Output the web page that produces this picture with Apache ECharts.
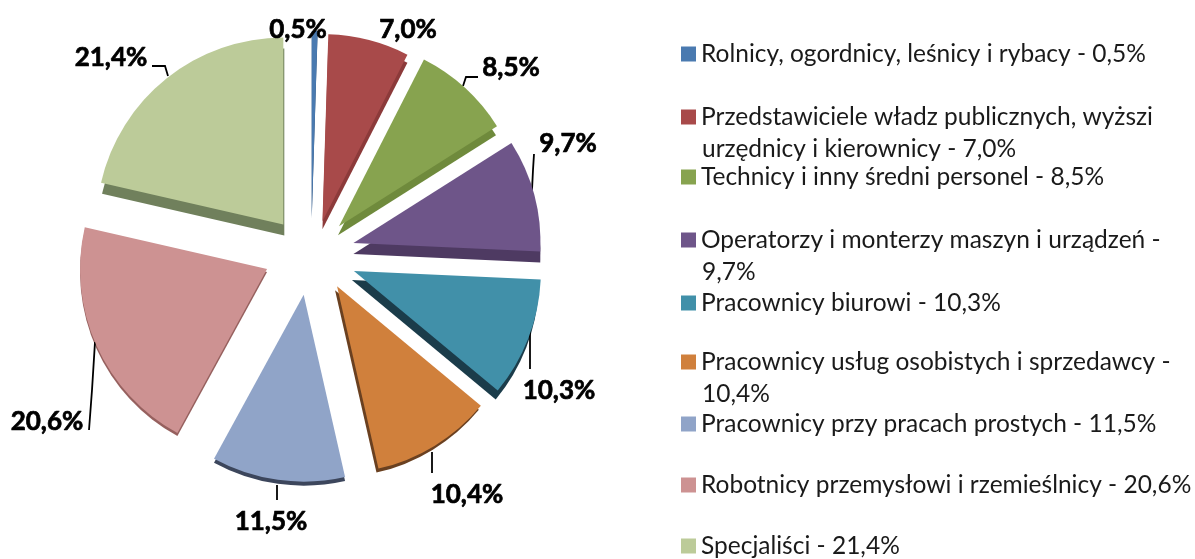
<!DOCTYPE html>
<html><head><meta charset="utf-8">
<style>html,body{margin:0;padding:0;background:#fff}#c{width:1195px;height:559px}</style>
<script src="https://cdn.jsdelivr.net/npm/echarts@6/dist/echarts.min.js"></script>
</head><body><div id="c"></div>
<script>
const categories=["Rolnicy, ogordnicy, leśnicy i rybacy","Przedstawiciele władz publicznych, wyższi urzędnicy i kierownicy","Technicy i inny średni personel","Operatorzy i monterzy maszyn i urządzeń","Pracownicy biurowi","Pracownicy usług osobistych i sprzedawcy","Pracownicy przy pracach prostych","Robotnicy przemysłowi i rzemieślnicy","Specjaliści"];
const values=[0.5,7.0,8.5,9.7,10.3,10.4,11.5,20.6,21.4];
const valueLabels=["0,5%","7,0%","8,5%","9,7%","10,3%","10,4%","11,5%","20,6%","21,4%"];
const faceColors=["#4a7ab0","#a84a4a","#87a34f","#6e5589","#4190a9","#d0803c","#90a4c8","#cd9292","#bccb99"];
const sideColors=["#2e4c70","#8c3a3a","#6f8a3c","#4e3a62","#1b3c4a","#6a4020","#3c465c","#96605e","#70805c"];
const legendFirstLines=["Rolnicy, ogordnicy, leśnicy i rybacy - 0,5%","Przedstawiciele władz publicznych, wyższi","Technicy i inny średni personel - 8,5%","Operatorzy i monterzy maszyn i urządzeń -","Pracownicy biurowi - 10,3%","Pracownicy usług osobistych i sprzedawcy -","Pracownicy przy pracach prostych - 11,5%","Robotnicy przemysłowi i rzemieślnicy - 20,6%","Specjaliści - 21,4%"];
const legendSecondLines=["","urzędnicy i kierownicy - 7,0%","","9,7%","","10,4%","","",""];
const legendCenters=[54,117,177,240,303,362,424,485,546];
const depth=[[0,2],[0,8],[-1,9],[0,11],[-2,9],[-2,4],[0,4],[0,3],[1,11]];
const nudge=[[0,0],[0,2],[-3,-2],[-2,-4],[0,0],[2,-4],[-1,-1],[-2,-4],[1,-2]];
const labelPos=[[298,30],[408,30],[511,68],[568,144],[559,391],[467,495],[271,522],[47,422],[111,58]];
const leaderPoints=[null,null,[[478,77],[466,77],[463,86]],[[534,154],[533,170],[532,190]],[[530,369],[530,350],[530,330]],[[432,473],[432,462],[432,452]],[[277,500],[277,492],[277,485]],[[89,430],[92,390],[95,342]],[[152,66],[165,66],[168,76]]];
const pieCenter=[311,257], explodeX=46, explodeY=39, R=187;
const total=values.reduce((a,b)=>a+b,0);
let cum=0;
const mids=values.map(v=>{const m=(cum+v/2)/total*2*Math.PI;cum+=v;return m;});
const centerOf=i=>[pieCenter[0]+explodeX*Math.sin(mids[i])+nudge[i][0],pieCenter[1]-explodeY*Math.cos(mids[i])+nudge[i][1]];
const series=[];
const noEmph={emphasis:{disabled:true},silent:true,animation:false,startAngle:90,clockwise:true,radius:[0,R],avoidLabelOverlap:false,type:'pie'};
values.forEach((_,i)=>{const c=centerOf(i);
 series.push(Object.assign({},noEmph,{z:1,center:[c[0]+depth[i][0],c[1]+depth[i][1]],label:{show:false},labelLine:{show:false},
  data:values.map((v,j)=>({name:categories[j],value:v,itemStyle:{color:j===i?sideColors[i]:'rgba(0,0,0,0)'}}))}));
});
values.forEach((_,i)=>{const c=centerOf(i);
 series.push(Object.assign({},noEmph,{z:2,center:c,
  labelLayout:(p)=>{if(p.dataIndex!==i)return {};const o={x:labelPos[i][0],y:labelPos[i][1],align:'center',verticalAlign:'middle'};if(leaderPoints[i])o.labelLinePoints=leaderPoints[i];return o;},
  data:values.map((v,j)=>({name:categories[j],value:v,itemStyle:{color:j===i?faceColors[i]:'rgba(0,0,0,0)'},
   label:{show:j===i,formatter:valueLabels[j],fontFamily:'Lato',fontWeight:'bold',fontSize:26,color:'#000',textBorderColor:'#000',textBorderWidth:0.7},
   labelLine:{show:j===i&&i>1,length:12,length2:8,lineStyle:{color:'#000',width:1.8}}}))}));
});
const legends=categories.map((n,i)=>({orient:'vertical',left:681,top:legendCenters[i]-13,padding:0,itemWidth:15,itemHeight:15,itemGap:0,icon:'rect',selectedMode:false,
 formatter:()=>legendFirstLines[i],textStyle:{fontFamily:'Lato',fontSize:24.5,lineHeight:26,color:'#1a1a1a'},
 data:[{name:n,itemStyle:{color:faceColors[i]}}]}));
const titles=legendSecondLines.map((t,i)=>({text:t,left:702,top:legendCenters[i]+19,padding:0,textStyle:{fontFamily:'Lato',fontSize:24.5,fontWeight:'normal',lineHeight:26,color:'#1a1a1a'}})).filter(t=>t.text);
const chart=echarts.init(document.getElementById('c'),null,{renderer:'canvas'});
chart.setOption({animation:false,backgroundColor:'#fff',legend:legends,title:titles,series});
</script></body></html>
